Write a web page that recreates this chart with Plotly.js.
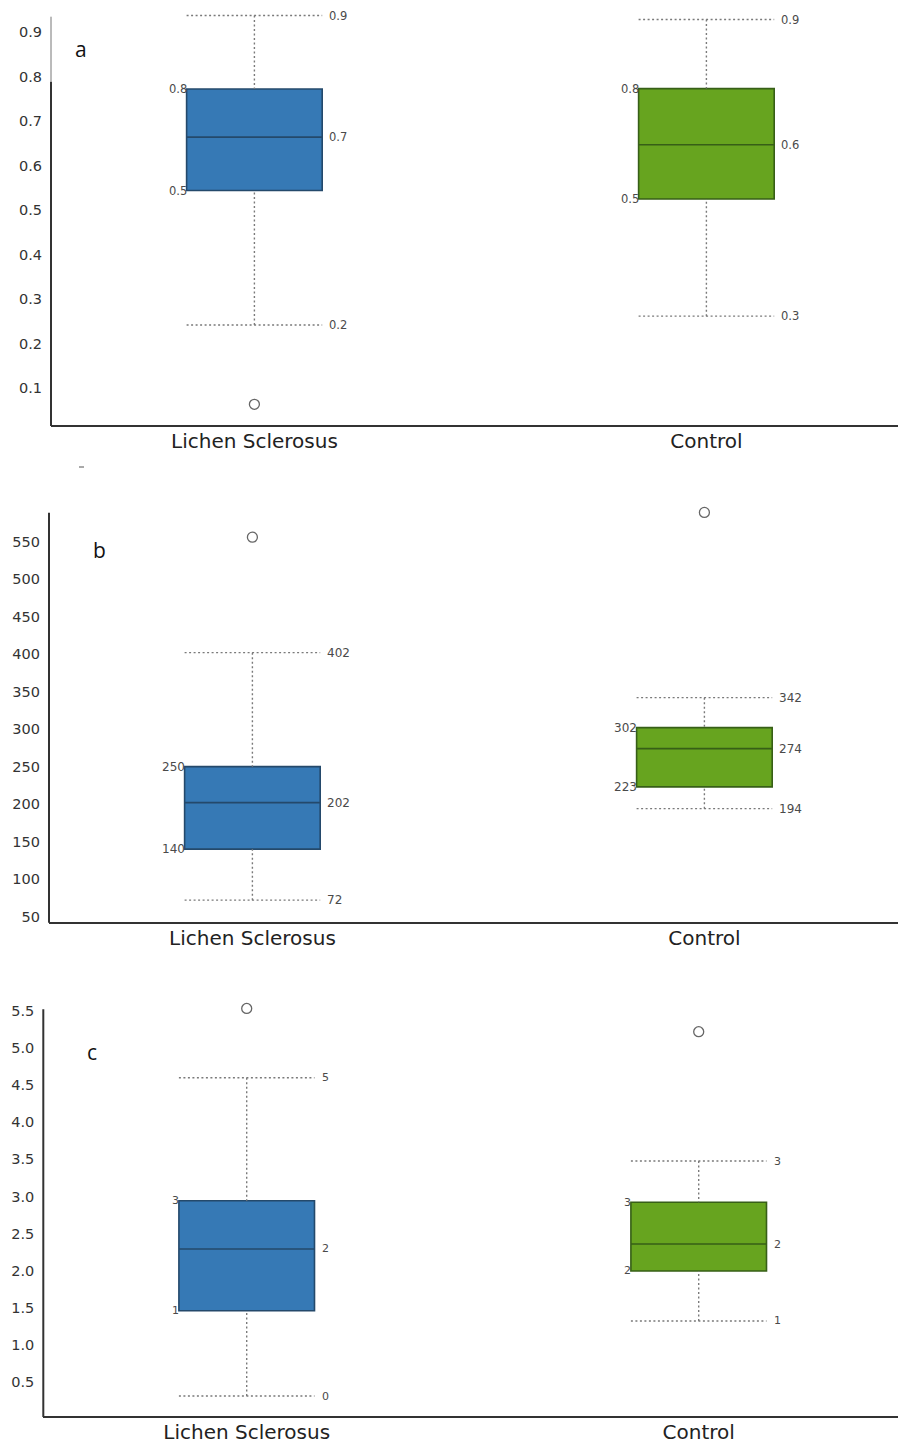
<!DOCTYPE html>
<html>
<head>
<meta charset="utf-8">
<script src="https://cdn.plot.ly/plotly-3.0.1.min.js"></script>
<style>html,body{margin:0;padding:0;background:#fff;}#chart{width:898px;height:1445px;}</style>
</head>
<body>
<div id="chart"></div>
<script>
// ---------- DATA ----------
const categories = ['Lichen Sclerosus', 'Control'];

// Panel a
const aLower  = [0.242, 0.262];
const aQ1     = [0.544, 0.525];
const aMedian = [0.664, 0.647];
const aQ3     = [0.772, 0.773];
const aUpper  = [0.937, 0.928];
const aOutliers = [[0.064], []];

// Panel b
const bLower  = [72, 194];
const bQ1     = [140, 223];
const bMedian = [202, 274];
const bQ3     = [250, 302];
const bUpper  = [402, 342];
const bOutliers = [[556], [589]];

// Panel c
const cLower  = [0.314, 1.324];
const cQ1     = [1.462, 1.997];
const cMedian = [2.293, 2.36];
const cQ3     = [2.943, 2.921];
const cUpper  = [4.598, 3.477];
const cOutliers = [[5.53], [5.217]];

const panelLetters = ['a', 'b', 'c'];

// ---------- STYLE / LAYOUT ----------
const W = 898, H = 1445;
const FONT = 'DejaVu Sans';
const fillColors = ['#3679b5', '#67a41f'];
const lineColors = ['#24496b', '#375f17'];
const BOXW = 0.3;
const UNIT = 452; // px per category

function py(px) { return 1 - px / H; }
function px2x(px) { return px / W; }

const panels = [
  {lower: aLower, q1: aQ1, med: aMedian, q3: aQ3, upper: aUpper, out: aOutliers,
   dec: 1, left: 51, top: 12, bottom: 425, yr: [0.0175, 0.945], dtick: 0.1, fmt: '.1f',
   letter: {x: 81, y: 49}, lab: 11.5},
  {lower: bLower, q1: bQ1, med: bMedian, q3: bQ3, upper: bUpper, out: bOutliers,
   dec: 0, left: 49, top: 505, bottom: 921.7, yr: [43.3, 598.9], dtick: 50, fmt: '',
   letter: {x: 99, y: 550}, lab: 12},
  {lower: cLower, q1: cQ1, med: cMedian, q3: cQ3, upper: cUpper, out: cOutliers,
   dec: 0, left: 43.3, top: 1002, bottom: 1416, yr: [0.045, 5.617], dtick: 0.5, fmt: '.1f',
   letter: {x: 92, y: 1052}, lab: 11}
];

const traces = [];
const annotations = [];
const shapes = [];
const layout = {
  width: W, height: H,
  margin: {l: 0, r: 0, t: 0, b: 0},
  paper_bgcolor: '#ffffff', plot_bgcolor: 'rgba(0,0,0,0)',
  showlegend: false,
  font: {family: FONT, color: '#333'},
};

panels.forEach((p, k) => {
  const sfx = k === 0 ? '' : String(k + 1);
  const xa = 'x' + sfx, ya = 'y' + sfx;
  const xRange = [-0.45, -0.45 + (W - p.left) / UNIT];
  layout['xaxis' + sfx] = {
    domain: [px2x(p.left), 1], range: xRange, anchor: ya,
    tickvals: categories.map((c, i) => i), ticktext: categories,
    showline: true, linewidth: 2, linecolor: '#333', showgrid: false, zeroline: false,
    ticks: '', ticklabelstandoff: -3,
    tickfont: {family: FONT, size: 20, color: '#222'}, fixedrange: true
  };
  layout['yaxis' + sfx] = {
    domain: [py(p.bottom), py(p.top)], range: p.yr, anchor: xa,
    tick0: 0, dtick: p.dtick, tickformat: p.fmt,
    showline: false, showgrid: false, zeroline: false,
    ticks: '', ticklabelstandoff: 8,
    tickfont: {family: FONT, size: 14.5, color: '#333'}, fixedrange: true
  };

  categories.forEach((cat, i) => {
    const lf = p.lower[i], q1 = p.q1[i], md = p.med[i], q3 = p.q3[i], uf = p.upper[i];
    // dotted whiskers and caps
    traces.push({
      type: 'scatter', mode: 'lines', xaxis: xa, yaxis: ya, hoverinfo: 'skip',
      x: [i - BOXW / 2, i + BOXW / 2, null, i, i, null, i - BOXW / 2, i + BOXW / 2, null, i, i],
      y: [uf, uf, null, uf, q3, null, lf, lf, null, lf, q1],
      line: {color: '#7a7a7a', width: 1.4, dash: '2px,2.5px'}
    });
    // box
    traces.push({
      type: 'box', xaxis: xa, yaxis: ya, x: [i],
      q1: [q1], median: [md], q3: [q3], lowerfence: [q1], upperfence: [q3],
      width: BOXW, whiskerwidth: 0, boxpoints: false,
      fillcolor: fillColors[i], line: {color: lineColors[i], width: 1.6},
      hoverinfo: 'skip', name: cat
    });
    // outliers
    if (p.out[i].length) {
      traces.push({
        type: 'scatter', mode: 'markers', xaxis: xa, yaxis: ya, cliponaxis: false,
        x: p.out[i].map(() => i), y: p.out[i],
        marker: {symbol: 'circle-open', size: 10, color: '#666', line: {width: 1.3, color: '#666'}},
        hoverinfo: 'skip'
      });
    }
    // value labels
    const lab = (v) => v.toFixed(p.dec);
    const fnt = {family: FONT, size: p.lab, color: '#4a4a4a'};
    [uf, md, lf].forEach(v => annotations.push({
      xref: xa, yref: ya, x: i + BOXW / 2, y: v, text: lab(v), showarrow: false,
      xanchor: 'left', yanchor: 'middle', xshift: 5, font: fnt
    }));
    [q3, q1].forEach(v => annotations.push({
      xref: xa, yref: ya, x: i - BOXW / 2, y: v, text: lab(v), showarrow: false,
      xanchor: 'right', yanchor: 'middle', xshift: 2, font: fnt
    }));
  });

  // panel letter
  annotations.push({
    xref: 'paper', yref: 'paper', x: px2x(p.letter.x), y: py(p.letter.y),
    text: panelLetters[k], showarrow: false, xanchor: 'center', yanchor: 'middle',
    font: {family: 'Open Sans', size: 21, color: '#111'}
  });
});

// y-axis lines
shapes.push({type: 'line', xref: 'paper', yref: 'paper', x0: px2x(51), x1: px2x(51), y0: py(16.7), y1: py(81.7), line: {color: '#777', width: 1}});
shapes.push({type: 'line', xref: 'paper', yref: 'paper', x0: px2x(51), x1: px2x(51), y0: py(81.7), y1: py(426), line: {color: '#333', width: 2}});
shapes.push({type: 'line', xref: 'paper', yref: 'paper', x0: px2x(49), x1: px2x(49), y0: py(512.7), y1: py(922.7), line: {color: '#333', width: 2}});
shapes.push({type: 'line', xref: 'paper', yref: 'paper', x0: px2x(43.3), x1: px2x(43.3), y0: py(1009.3), y1: py(1417), line: {color: '#333', width: 2}});
// small stray dash mark between panels a and b
shapes.push({type: 'line', xref: 'paper', yref: 'paper', x0: px2x(79), x1: px2x(84), y0: py(467), y1: py(467), line: {color: '#555', width: 1}});

layout.annotations = annotations;
layout.shapes = shapes;

Plotly.newPlot('chart', traces, layout, {displayModeBar: false, staticPlot: true});
</script>
</body>
</html>
